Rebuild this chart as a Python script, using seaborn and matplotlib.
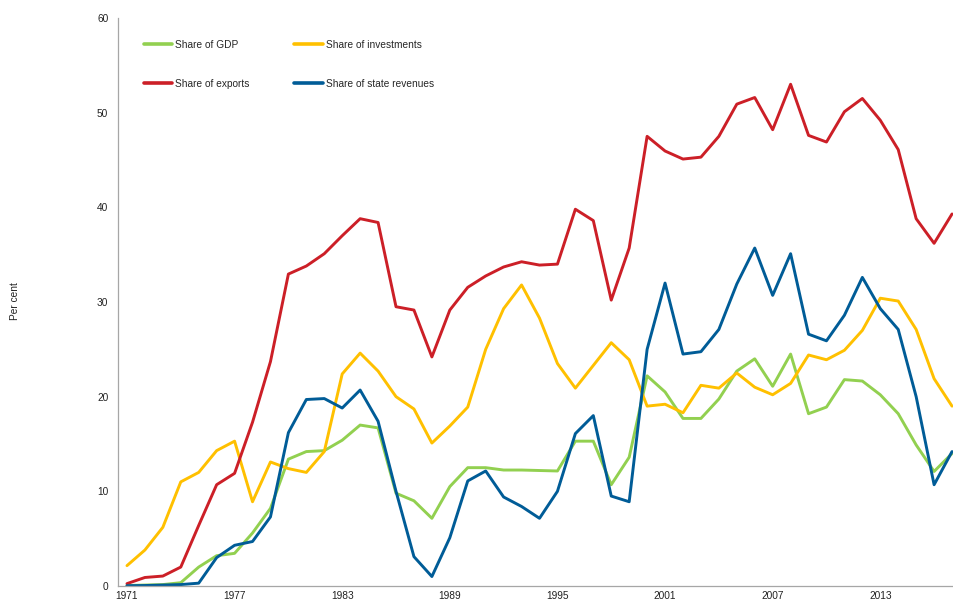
import numpy as np
import pandas as pd
import matplotlib
matplotlib.use("Agg")
import matplotlib.pyplot as plt
import seaborn as sns

years = list(range(1971, 2018))

gdp = [0.05, 0.1, 0.15, 0.35, 2.0, 3.2, 3.45, 5.6, 8.2, 13.4,
       14.2, 14.3, 15.4, 17.0, 16.7, 9.8, 9.0, 7.15, 10.5, 12.5,
       12.5, 12.25, 12.25, 12.2, 12.15, 15.3, 15.3, 10.7, 13.6, 22.2,
       20.5, 17.7, 17.7, 19.75, 22.7, 24.0, 21.1, 24.5, 18.2, 18.9,
       21.8, 21.65, 20.2, 18.2, 14.9, 12.1, 14.0]

investments = [2.15, 3.8, 6.2, 11.0, 12.0, 14.3, 15.3, 8.9, 13.1, 12.4,
               12.0, 14.2, 22.4, 24.6, 22.7, 20.0, 18.7, 15.1, 16.9, 18.9,
               25.0, 29.3, 31.8, 28.3, 23.5, 20.9, 23.3, 25.7, 23.9, 19.0,
               19.2, 18.3, 21.2, 20.9, 22.5, 21.0, 20.2, 21.4, 24.4, 23.9,
               24.9, 27.0, 30.4, 30.1, 27.1, 21.9, 19.0]

exports = [0.25, 0.9, 1.05, 2.0, 6.4, 10.7, 11.9, 17.3, 23.7, 32.95,
           33.8, 35.1, 37.0, 38.8, 38.4, 29.5, 29.15, 24.2, 29.15, 31.55,
           32.75, 33.7, 34.25, 33.9, 34.0, 39.8, 38.6, 30.2, 35.7, 47.5,
           45.95, 45.1, 45.3, 47.5, 50.9, 51.6, 48.2, 53.0, 47.6, 46.9,
           50.1, 51.5, 49.2, 46.1, 38.8, 36.2, 39.3]

revenues = [0.03, 0.05, 0.1, 0.15, 0.3, 3.0, 4.3, 4.7, 7.3, 16.2,
            19.7, 19.8, 18.8, 20.7, 17.4, 10.0, 3.1, 1.0, 5.1, 11.1,
            12.15, 9.4, 8.4, 7.15, 10.0, 16.1, 18.0, 9.5, 8.9, 25.0,
            32.0, 24.5, 24.75, 27.1, 31.9, 35.7, 30.7, 35.1, 26.6, 25.9,
            28.6, 32.6, 29.3, 27.1, 20.0, 10.7, 14.2]

series_names = ["Share of GDP", "Share of investments",
                "Share of exports", "Share of state revenues"]
colors = ["#92D050", "#FFC000", "#CC1F27", "#005C97"]
tick_years = [1971, 1977, 1983, 1989, 1995, 2001, 2007, 2013]

df = pd.DataFrame({
    "year": years * 4,
    "value": gdp + investments + exports + revenues,
    "series": sum([[n] * len(years) for n in series_names], []),
})

sns.set_style("white")
plt.rcParams["font.family"] = ["Liberation Sans", "DejaVu Sans"]

fig = plt.figure(figsize=(9.54, 6.02), dpi=100)
ax = fig.add_axes([118 / 954, 16 / 602, 843 / 954, 568 / 602])

sns.lineplot(data=df, x="year", y="value", hue="series",
             hue_order=series_names, palette=colors, linewidth=2.1, ax=ax)

ax.set_xlim(1970.5, 2017.5)
ax.set_ylim(0, 60)
ax.set_yticks(range(0, 61, 10))
ax.set_xticks(tick_years)
ax.set_xticks(np.arange(1970.5, 2018, 1), minor=True)
ax.tick_params(axis="x", which="major", length=0, labelsize=7.3, pad=3.5, colors="#222222")
ax.tick_params(axis="x", which="minor", length=4, width=0.8, color="#A6A6A6", direction="out")
ax.tick_params(axis="y", length=4, width=0.8, color="#A6A6A6", direction="out",
               labelsize=7.3, pad=3, labelcolor="#222222")
ax.set_xlabel("")
ax.set_ylabel("")
fig.text(15 / 954, 0.5, "Per cent", rotation=90, fontsize=7.3,
         va="center", ha="center", color="#222222")

for side in ["top", "right"]:
    ax.spines[side].set_visible(False)
for side in ["left", "bottom"]:
    ax.spines[side].set_color("#A6A6A6")
    ax.spines[side].set_linewidth(0.9)

handles, labels = ax.get_legend_handles_labels()
order = [0, 2, 1, 3]
leg = ax.legend([handles[i] for i in order], [labels[i] for i in order],
                ncol=2, frameon=False, fontsize=7.3,
                loc="upper left", bbox_to_anchor=(144 / 954, 1 - 40 / 602),
                bbox_transform=fig.transFigure, borderpad=0, borderaxespad=0,
                handlelength=2.8, handletextpad=0.3, labelspacing=2.85,
                columnspacing=4.4)
for line in leg.get_lines():
    line.set_linewidth(2.6)

fig.savefig("out.png", dpi=100)
